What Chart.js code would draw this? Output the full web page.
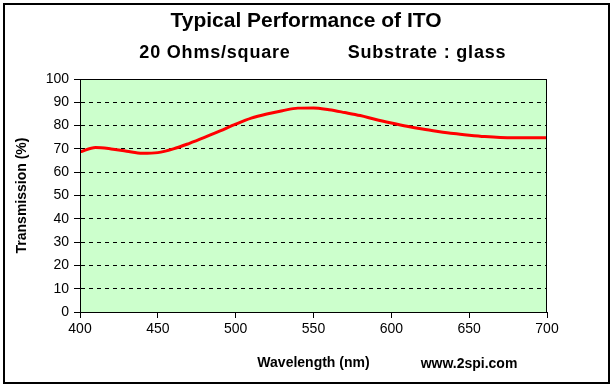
<!DOCTYPE html>
<html>
<head>
<meta charset="utf-8">
<script src="https://cdn.jsdelivr.net/npm/chart.js@4/dist/chart.umd.min.js"></script>
<style>
  html, body { margin: 0; padding: 0; background: #fff; }
  #wrap { width: 614px; height: 388px; }
</style>
</head>
<body>
<div id="wrap"><canvas id="chart" width="614" height="388"></canvas></div>
<script>
// wavelength (nm) and transmission (%)
const wavelengths = [400, 410, 420, 430, 440, 450, 460, 470, 480, 490, 500, 510, 520, 530, 540, 550,
  560, 570, 580, 590, 600, 610, 620, 630, 640, 650, 660, 670, 680, 690, 700];
const transmission = [68.7, 70.6, 70.0, 69.0, 68.1, 68.4, 70.0, 72.3, 74.9, 77.7, 80.6, 83.2, 85.0, 86.4, 87.5, 87.6,
  86.8, 85.6, 84.3, 82.6, 81.1, 79.7, 78.5, 77.5, 76.6, 75.9, 75.3, 74.9, 74.8, 74.8, 74.8];
const xTicks = [400, 450, 500, 550, 600, 650, 700];
const yTicks = [0, 10, 20, 30, 40, 50, 60, 70, 80, 90, 100];

const title = "Typical Performance of ITO";
const subLeft = "20 Ohms/square";
const subRight = "Substrate : glass";
const credit = "www.2spi.com";

const FONT = "'Liberation Sans', Arial, sans-serif";

const decor = {
  id: "decor",
  beforeDraw(chart) {
    const { ctx, chartArea: a } = chart;
    ctx.save();
    ctx.fillStyle = "#ffffff";
    ctx.fillRect(0, 0, chart.width, chart.height);
    ctx.fillStyle = "#CCFFCC";
    ctx.fillRect(a.left, a.top, a.right - a.left, a.bottom - a.top);
    ctx.restore();
  },
  afterDraw(chart) {
    const { ctx, chartArea: a } = chart;
    ctx.save();
    ctx.strokeStyle = "#000";
    ctx.lineWidth = 1;
    ctx.strokeRect(a.left + 0.5, a.top + 0.5, a.right - a.left - 1, a.bottom - a.top);
    ctx.lineWidth = 2;
    ctx.strokeRect(4, 4, 605, 379);

    ctx.fillStyle = "#000";
    ctx.textBaseline = "middle";
    ctx.textAlign = "center";
    ctx.font = "bold 21px " + FONT;
    ctx.fillText(title, 306, 21);
    ctx.font = "bold 18px " + FONT;
    ctx.letterSpacing = "0.8px";
    ctx.fillText(subLeft, 215, 53);
    ctx.fillText(subRight, 427, 53);
    ctx.letterSpacing = "0px";
    ctx.font = "bold 14px " + FONT;
    ctx.fillText(credit, 469, 364);
    ctx.restore();
  }
};

new Chart(document.getElementById("chart"), {
  type: "line",
  data: {
    labels: wavelengths,
    datasets: [{
      data: wavelengths.map((w, i) => ({ x: w, y: transmission[i] })),
      borderColor: "#FF0000",
      borderWidth: 3,
      pointRadius: 0,
      cubicInterpolationMode: "monotone",
      fill: false
    }]
  },
  options: {
    responsive: false,
    animation: false,
    layout: { padding: { left: 0, top: 79, right: 67, bottom: 0 } },
    plugins: { legend: { display: false }, tooltip: { enabled: false } },
    scales: {
      x: {
        type: "linear",
        min: 400,
        max: 700,
        afterBuildTicks: s => { s.ticks = xTicks.map(v => ({ value: v })); },
        afterFit: s => { s.height = 76; },
        grid: { drawOnChartArea: false, tickLength: 6, tickColor: "#000" },
        border: { color: "#000", width: 1 },
        ticks: { color: "#000", padding: 3, maxRotation: 0, font: { family: FONT, size: 14 } },
        title: {
          display: true,
          text: "Wavelength (nm)",
          color: "#000",
          padding: { top: 0, bottom: 16 },
          font: { family: FONT, size: 14, weight: "bold" }
        }
      },
      y: {
        min: 0,
        max: 100,
        afterBuildTicks: s => { s.ticks = yTicks.map(v => ({ value: v })); },
        afterFit: s => { s.width = 80; },
        grid: {
          color: c => (c.tick.value === 0 || c.tick.value === 100) ? "rgba(0,0,0,0)" : "#000",
          tickColor: "#000",
          tickLength: 6,
          tickBorderDash: []
        },
        border: { color: "#000", width: 1, dash: [4, 4] },
        ticks: { color: "#000", padding: 5, font: { family: FONT, size: 14 } },
        title: {
          display: true,
          text: "Transmission (%)",
          color: "#000",
          padding: { top: 14, bottom: 0 },
          font: { family: FONT, size: 14, weight: "bold" }
        }
      }
    }
  },
  plugins: [decor]
});
</script>
</body>
</html>
